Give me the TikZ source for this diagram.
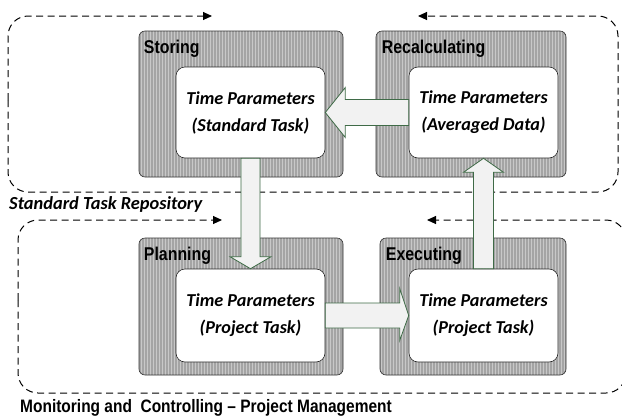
\documentclass[tikz,border=0pt]{standalone}
\usepackage{fontspec}
\setmainfont{Carlito}
\newfontfamily\lblfont[FakeStretch=0.86]{Liberation Sans}
\usetikzlibrary{arrows.meta,calc,patterns}
\definecolor{boxgray}{HTML}{A4A4A4}
\definecolor{stripe}{HTML}{C8C8C8}
\definecolor{arrowfill}{HTML}{F2F2F2}
\definecolor{arrowline}{HTML}{3F6B47}
\tikzset{
  graybox/.style={draw=black!80, line width=0.6pt, rounded corners=6pt, fill=boxgray, inner sep=0pt},
  whitebox/.style={draw=black!85, line width=0.6pt, rounded corners=9pt, fill=white, inner sep=0pt,
     minimum width=149pt, minimum height=91pt, align=center,
     font=\fontsize{18.2}{27}\selectfont\bfseries\itshape},
  boxlabel/.style={anchor=west, inner sep=0pt, font=\lblfont\fontsize{18.5}{20}\selectfont\bfseries},
  loopline/.style={draw=black, dash pattern=on 7pt off 4.5pt, line width=1pt, rounded corners=20pt},
  looparrow/.style={-{Triangle[length=9pt,width=8pt]}},
  blockarrow/.style={fill=arrowfill, draw=arrowline, line width=0.8pt, line join=miter},
}
\begin{document}
\begin{tikzpicture}[x=1pt,y=-1pt]
\useasboundingbox (0,0) rectangle (622,416);
% dashed loops
\draw[loopline,looparrow] (8,100) -- (8,16) -- (212,16);
\draw[loopline,looparrow] (8,100) -- (8,192) -- (618,192) -- (618,16) -- (418,16);
\draw[loopline,looparrow] (18,300) -- (18,220) -- (222,220);
\draw[loopline,looparrow] (18,300) -- (18,393) -- (626,393) -- (626,220) -- (427,220);
% gray boxes
\node[graybox, minimum width=204pt, minimum height=146pt] (sBox) at (241,104) {};
\node[graybox, minimum width=190pt, minimum height=146pt] (rBox) at (471,104) {};
\node[graybox, minimum width=204pt, minimum height=137pt] (pBox) at (241,306.5) {};
\node[graybox, minimum width=186pt, minimum height=137pt] (eBox) at (473,306.5) {};
\foreach \b in {sBox,rBox,pBox,eBox}{
  \path[pattern=vertical lines, pattern color=stripe, rounded corners=6pt]
    ($(\b.north west)+(1,1)$) rectangle ($(\b.south east)+(-1,-1)$);
}
\node[boxlabel] (sLab) at ($(sBox.north west)+(5,18)$) {Storing};
\node[boxlabel] (rLab) at ($(rBox.north west)+(6,18)$) {Recalculating};
\node[boxlabel] (pLab) at ($(pBox.north west)+(5,18)$) {Planning};
\node[boxlabel] (eLab) at ($(eBox.north west)+(6,18)$) {Executing};
% inner boxes
\node[whitebox] (sIn) at (250.5,112.5) {Time Parameters\\(Standard Task)};
\node[whitebox] (rIn) at (483.5,112.5) {Time Parameters\\(Averaged Data)};
\node[whitebox, minimum height=93pt] (pIn) at (250.5,315.5) {Time Parameters\\(Project Task)};
\node[whitebox, minimum height=93pt] (eIn) at (483.5,315.5) {Time Parameters\\(Project Task)};
% block arrows
% down: sIn -> pIn
\draw[blockarrow] ($(sIn.south)+(-9.5,0)$) -- ($(pIn.north)+(-9.5,-12)$) -- ($(pIn.north)+(-20.5,-12)$)
  -- (pIn.north) -- ($(pIn.north)+(20.5,-12)$) -- ($(pIn.north)+(9.5,-12)$) -- ($(sIn.south)+(9.5,0)$) -- cycle;
% left: rIn -> sIn
\draw[blockarrow] ($(rIn.west)+(0,-13)$) -- ($(sIn.east)+(20,-13)$) -- ($(sIn.east)+(20,-25)$)
  -- (sIn.east) -- ($(sIn.east)+(20,25)$) -- ($(sIn.east)+(20,13)$) -- ($(rIn.west)+(0,13)$) -- cycle;
% right: pIn -> eIn
\draw[blockarrow] ($(pIn.east)+(0,-12.5)$) -- ($(eIn.west)+(-9,-12.5)$) -- ($(eIn.west)+(-9,-27)$)
  -- (eIn.west) -- ($(eIn.west)+(-9,25)$) -- ($(eIn.west)+(-9,12.5)$) -- ($(pIn.east)+(0,12.5)$) -- cycle;
% up: eIn -> rIn
\draw[blockarrow] ($(eIn.north)+(-10,0)$) -- ($(rIn.south)+(-10,14)$) -- ($(rIn.south)+(-20,14)$)
  -- (rIn.south) -- ($(rIn.south)+(20,14)$) -- ($(rIn.south)+(10,14)$) -- ($(eIn.north)+(10,0)$) -- cycle;
% captions
\node[anchor=west, inner sep=0pt, font=\fontsize{18.4}{20}\selectfont\bfseries\itshape] (repo) at (9,204) {Standard Task Repository};
\node[anchor=west, inner sep=0pt, font=\lblfont\fontsize{18}{20}\selectfont\bfseries] (mgmt) at (20,408) {Monitoring and\ \ Controlling – Project Management};
\end{tikzpicture}
\end{document}
